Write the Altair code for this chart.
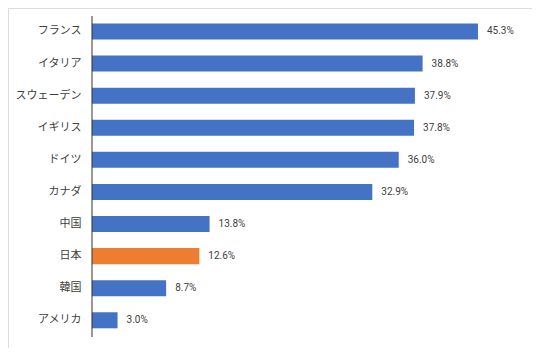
import altair as alt
import pandas as pd

countries = ["フランス", "イタリア", "スウェーデン", "イギリス", "ドイツ", "カナダ", "中国", "日本", "韓国", "アメリカ"]
values = [45.3, 38.8, 37.9, 37.8, 36.0, 32.9, 13.8, 12.6, 8.7, 3.0]
highlight = ["日本"]

df = pd.DataFrame({"country": countries, "value": values})
df["label"] = [f"{v:.1f}%" for v in values]
df["hl"] = ["yes" if c in highlight else "no" for c in countries]

W, H = 524, 340
x_scale = alt.Scale(domain=[-9.858, 51.64], nice=False, zero=False)
y_scale = alt.Scale(paddingInner=0.5, paddingOuter=0.548, align=0.44)

base = alt.Chart(df).encode(
    y=alt.Y("country:N", sort=countries, scale=y_scale,
            axis=alt.Axis(title=None, orient="left", offset=-84, domain=False,
                          ticks=False, tickSize=0, labelPadding=11,
                          labelFont="Noto Sans CJK JP", labelFontSize=11,
                          labelColor="#404040")),
)

bars = base.mark_bar().encode(
    x=alt.X("value:Q", scale=x_scale, axis=None),
    color=alt.Color("hl:N", scale=alt.Scale(domain=["no", "yes"], range=["#4472C4", "#ED7D31"]), legend=None),
)

texts = base.mark_text(align="left", baseline="middle", dx=9, font="Roboto", fontSize=10, color="#404040").encode(
    x=alt.X("value:Q", scale=x_scale, axis=None),
    text="label:N",
)

axis_line = alt.Chart(pd.DataFrame({"z": [0]})).mark_rule(color="#333333", strokeWidth=1).encode(
    x=alt.X("z:Q", scale=x_scale, axis=None),
    y=alt.value(8),
    y2=alt.value(329),
)

chart = alt.layer(bars, texts, axis_line).properties(
    width=W, height=H, padding=0
).configure_view(
    stroke="#D9D9D9", strokeWidth=1
).configure(background="white")

chart.save("out.html", embed_options={"renderer": "svg", "actions": False})
